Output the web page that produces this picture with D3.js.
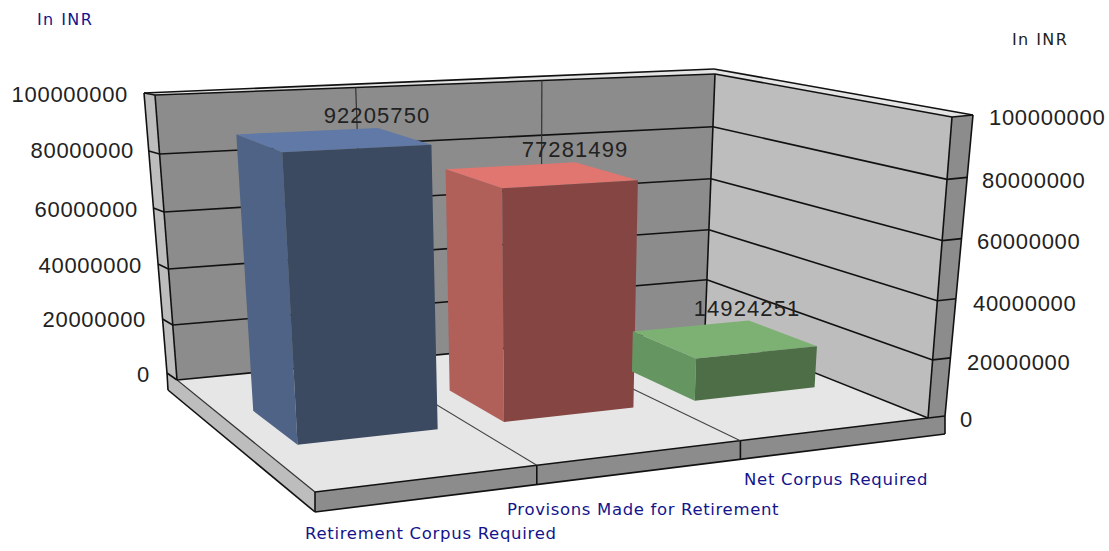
<!DOCTYPE html>
<html><head><meta charset="utf-8">
<script src="https://cdn.jsdelivr.net/npm/d3@7"></script>
<style>html,body{margin:0;padding:0;background:#fff}svg{display:block}</style>
</head><body><div id="c"></div>
<script>
const categories = ["Retirement Corpus Required","Provisons Made for Retirement","Net Corpus Required"];
const seriesValues = [92205750,77281499,14924251];
const valueLabels = ["92205750","77281499","14924251"];
const tickValues = [0,20000000,40000000,60000000,80000000,100000000];
const tickLabels = ["0","20000000","40000000","60000000","80000000","100000000"];
const barColours = [
  {top:"#6079a6",side:"#4e6385",front:"#3b4a60"},
  {top:"#e0766f",side:"#b05f59",front:"#854643"},
  {top:"#7db073",side:"#659560",front:"#4e6e48"}];

const W=1109,H=551;
const svg=d3.select("#c").append("svg").attr("width",W).attr("height",H);

function homography(a,b,c,d){
  const dx1=b[0]-c[0],dx2=d[0]-c[0],sx=a[0]-b[0]+c[0]-d[0];
  const dy1=b[1]-c[1],dy2=d[1]-c[1],sy=a[1]-b[1]+c[1]-d[1];
  const den=dx1*dy2-dx2*dy1;
  const g=(sx*dy2-dx2*sy)/den,h=(dx1*sy-sx*dy1)/den;
  const A=b[0]-a[0]+g*b[0],B=d[0]-a[0]+h*d[0],C=a[0];
  const D=b[1]-a[1]+g*b[1],E=d[1]-a[1]+h*d[1],F=a[1];
  return (u,v)=>{const w=g*u+h*v+1;return [(A*u+B*v+C)/w,(D*u+E*v+F)/w];};
}
const floorH=homography([315,492],[928,418],[705,329],[177,380]);
const topH  =homography([298,149],[952,117],[715,74],[155,95]);

const catU=d3.scaleBand().domain(categories).range([0,1]).paddingInner(0.33).paddingOuter(0.165);
const divU=d3.scaleLinear().domain([0,3]).range([0,1]);
const yLin=d3.scaleLinear().domain([0,100000000]).range([0,1]);
const yFrac=v=>{const t=yLin(v);return t/(t+1.045*(1-t));}; // perspective foreshortening of height
const depth=d3.scaleLinear().domain([0,1]).range([0.34,0.65]);

function P(u,v,val){
  const a=floorH(u,v),b=topH(u,v),t=yFrac(val);
  return [a[0]+(b[0]-a[0])*t,a[1]+(b[1]-a[1])*t];
}
const line=d3.line();
function poly(pts,fill,stroke,sw){
  return svg.append("path").attr("d",line(pts)+"Z").attr("fill",fill)
    .attr("stroke",stroke||"none").attr("stroke-width",sw||0).attr("stroke-linejoin","round");
}
function seg(a,b,col,sw){
  svg.append("path").attr("d",line([a,b])).attr("fill","none").attr("stroke",col||"#111").attr("stroke-width",sw||1.6);
}
const vMax=100000000;
poly([P(0,1,0),P(1,1,0),P(1,1,vMax),P(0,1,vMax)],"#8c8c8c");
poly([P(1,1,0),P(1,0,0),P(1,0,vMax),P(1,1,vMax)],"#bdbdbd");
poly([P(0,0,0),P(1,0,0),P(1,1,0),P(0,1,0)],"#e6e6e6");

const bandL=[[144,93],[155,95],[177,380],[167,373]];
const bandR=[[952,117],[973,115],[945,416],[928,418]];
const plateL=[[167,373],[315,492],[315,512],[168,390]];
const plateF=[[315,492],[945,416],[945,434],[315,512]];
poly(bandL,"#bdbdbd");poly(plateL,"#bdbdbd");poly(bandR,"#8c8c8c");poly(plateF,"#8c8c8c");
poly([[144,93],[714,69],[715,74],[155,95]],"#e4e4e4");
poly([[714,69],[727,70],[973,115],[952,117],[715,74]],"#e4e4e4");
seg([144,93],[714,69]);seg([155,95],[715,74]);seg([714,69],[973,115]);seg([715,74],[952,117]);
seg([144,93],[167,373]);seg([155,95],[177,380]);seg([144,93],[155,95]);
seg([973,115],[945,416]);seg([952,117],[928,418]);seg([952,117],[973,115]);
seg([167,373],[177,380]);seg([167,373],[168,390]);seg([168,390],[315,512]);seg([177,380],[315,492],"#333",1.2);
seg([315,492],[315,512]);seg([315,512],[945,434]);seg([315,492],[928,418]);seg([928,418],[945,416]);seg([945,416],[945,434]);

tickValues.forEach(t=>{
  if(t===0||t===vMax) return;
  seg(P(0,1,t),P(1,1,t));seg(P(1,1,t),P(1,0,t));
});
seg(P(0,1,0),P(1,1,0));seg(P(1,1,0),P(1,0,0));
seg(P(1,1,0),P(1,1,vMax));
[1,2].forEach(i=>{
  const u=divU(i);
  seg(P(u,1,0),P(u,1,vMax),"#333",1.2);
  seg(P(u,0,0),P(u,1,0),"#444",1.1);
  seg(P(u,0,0),[P(u,0,0)[0],P(u,0,0)[1]+19],"#111",1.6);
});
tickValues.forEach(t=>{
  if(t===0||t===vMax) return;
  const f=yFrac(t);
  seg([144+(167-144)*(1-f),93+(373-93)*(1-f)],P(0,1,t));
  seg(P(1,0,t),[945+(973-945)*f,416+(115-416)*f]);
});

categories.forEach((c,i)=>{
  const u0=catU(c),u1=u0+catU.bandwidth(),v0=depth(0),v1=depth(1),val=seriesValues[i],k=barColours[i];
  poly([P(u0,v1,val),P(u1,v1,val),P(u1,v0,val),P(u0,v0,val)],k.top);
  poly([P(u0,v1,0),P(u0,v0,0),P(u0,v0,val),P(u0,v1,val)],k.side);
  poly([P(u0,v0,0),P(u1,v0,0),P(u1,v0,val),P(u0,v0,val)],k.front);
});

const black="#222",blue="#14148c";
function txt(x,y,s,size,col,anchor,ls,fam){
  svg.append("text").attr("x",x).attr("y",y).text(s).attr("font-size",size).attr("fill",col)
   .attr("text-anchor",anchor||"start").attr("letter-spacing",ls||0)
   .attr("font-family",fam||"'Liberation Sans',Arial,sans-serif");
}
const leftY=[382,327,273,217,158,102], rightY=[427,370,311,249,188,125];
const leftEnd=[150,146,142,138,134,128], rightStart=[960,967,973,977,982,989];
tickLabels.forEach((s,i)=>{
  txt(leftEnd[i],leftY[i],s,22,black,"end",0.7);
  txt(rightStart[i],rightY[i],s,22,black,"start",0.7);
});
const labelX=[377,575,747],labelY=[123,157,316];
valueLabels.forEach((s,i)=>txt(labelX[i],labelY[i],s,22,black,"middle",1.1));
const catX=[305,507,744],catY=[539,515,485];
const catSpace=[0.7,0.65,0.7];
categories.forEach((c,i)=>txt(catX[i],catY[i],c,16.5,blue,"start",catSpace[i],"'DejaVu Sans',sans-serif"));
txt(37,25,"In INR",16,blue,"start",1.4,"'DejaVu Sans',sans-serif");
txt(1012,45,"In INR",16,black,"start",1.4,"'DejaVu Sans',sans-serif");
</script></body></html>
